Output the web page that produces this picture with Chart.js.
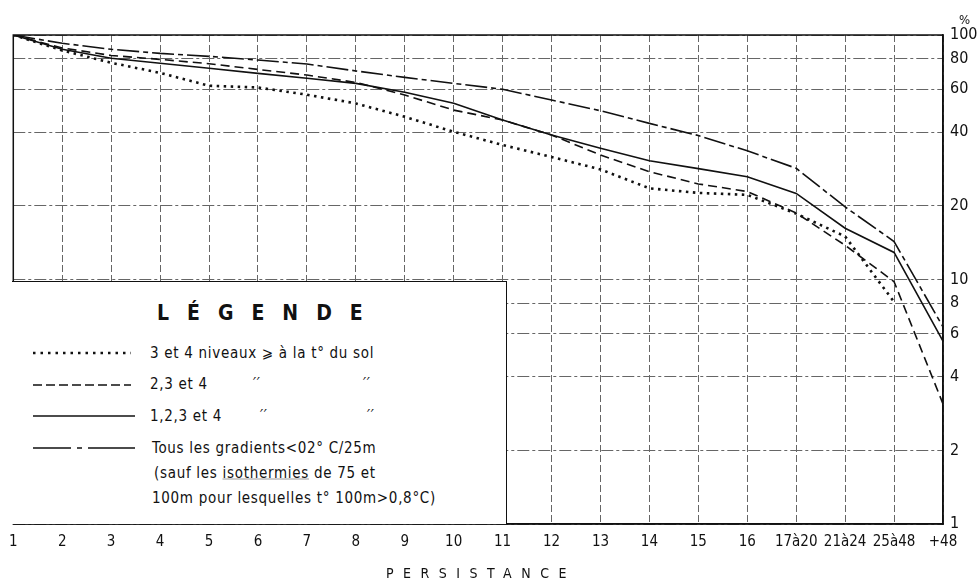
<!DOCTYPE html>
<html>
<head>
<meta charset="utf-8">
<script src="https://cdn.jsdelivr.net/npm/chart.js@4.4.1/dist/chart.umd.min.js"></script>
<style>
body { margin: 0; background: #fff; }
#wrap { position: relative; width: 979px; height: 583px; font-family: 'DejaVu Sans Condensed', 'DejaVu Sans', sans-serif; color: #111; }
#wrap canvas { position: absolute; left: 0; top: 0; }
.txt { position: absolute; white-space: nowrap; line-height: 1; transform: translateY(-50%); }
#legend { position: absolute; left: 12px; top: 281px; width: 495px; height: 243px; background: #fff;
  border-top: 1.5px solid #111; border-right: 1.5px solid #111; box-sizing: border-box; }
#legend .row { font-size: 15px; letter-spacing: 0.7px; }
#legend svg { position: absolute; left: 0; top: 0; }
</style>
</head>
<body>
<div id="wrap">
  <canvas id="chart" width="979" height="583"></canvas>
  <div class="txt" style="left:959px;top:19px;font-size:13px;">%</div>
  <div class="txt" style="left:386px;top:573px;font-size:14px;letter-spacing:9.5px;">PERSISTANCE</div>
  <div id="legend">
    <svg width="495" height="243">
      <line x1="21" y1="71" x2="119" y2="71" stroke="#111" stroke-width="2.5" stroke-dasharray="2.5 5"></line>
      <line x1="21" y1="103" x2="119" y2="103" stroke="#111" stroke-width="1.6" stroke-dasharray="9 4"></line>
      <line x1="21" y1="134" x2="123" y2="134" stroke="#111" stroke-width="1.6"></line>
      <line x1="21" y1="166" x2="123" y2="166" stroke="#111" stroke-width="1.6" stroke-dasharray="38 6 5 6 60"></line>
    </svg>
    <div class="txt" style="left:145px;top:31px;font-size:21px;font-weight:bold;letter-spacing:18px;">LÉGENDE</div>
    <div class="txt row" style="left:138px;top:71px;">3 et 4 niveaux ⩾ à la t° du sol</div>
    <div class="txt row" style="left:138px;top:102px;">2,3 et 4</div>
    <div class="txt row" style="left:241px;top:102px;font-style:italic;">′′</div>
    <div class="txt row" style="left:351px;top:102px;font-style:italic;">′′</div>
    <div class="txt row" style="left:138px;top:134px;">1,2,3 et 4</div>
    <div class="txt row" style="left:248px;top:134px;font-style:italic;">′′</div>
    <div class="txt row" style="left:355px;top:134px;font-style:italic;">′′</div>
    <div class="txt row" style="left:140px;top:166px;">Tous les gradients&lt;02° C/25m</div>
    <div class="txt row" style="left:142px;top:191px;">(sauf les <span style="text-decoration:underline;text-decoration-color:#999;">isothermies</span> de 75 et</div>
    <div class="txt row" style="left:140px;top:216px;">100m pour lesquelles t° 100m&gt;0,8°C)</div>
  </div>
</div>
<script>
const persistance = ['1', '2', '3', '4', '5', '6', '7', '8', '9', '10', '11', '12', '13', '14', '15', '16', '17à20', '21à24', '25à48', '+48'];
const yTicks = [1, 2, 4, 6, 8, 10, 20, 40, 60, 80, 100];

// % en echelle log
const niveaux34 = [100, 86.5, 77, 70, 62, 61, 57, 52.5, 46.3, 40.2, 35.5, 31.7, 28.2, 23.6, 22.6, 22.2, 18.6, 15.0, 8.1, null];
const niveaux234 = [100, 88.5, 82.5, 79.5, 76.3, 72.3, 68.6, 64, 56.8, 49.3, 44.9, 39, 32.3, 27.6, 24.6, 22.9, 18.7, 13.8, 9.8, 3.1];
const niveaux1234 = [100, 87.5, 80.3, 76.6, 73.1, 69.7, 66.5, 63.4, 58.3, 52.6, 44.9, 39, 34.4, 30.6, 28.4, 26.3, 22.5, 16.2, 12.9, 5.6];
const tousGradients = [100, 92.5, 87.4, 84.1, 81.8, 79, 76.1, 71.3, 67.1, 63.4, 60, 54.2, 49, 43.5, 38.8, 33.6, 28.5, 19.8, 14.3, 6.4];

const frame = {
    id: 'frame',
    afterDraw(chart) {
        const a = chart.chartArea;
        const ctx = chart.ctx;
        ctx.save();
        ctx.strokeStyle = '#111';
        ctx.lineWidth = 1.5;
        ctx.strokeRect(a.left, a.top, a.right - a.left, a.bottom - a.top);
        ctx.restore();
    }
};

function line(data, dash, width) {
    return {
        data: data,
        borderColor: '#111',
        borderWidth: width,
        borderDash: dash,
        pointRadius: 0,
        tension: 0,
        fill: false,
        spanGaps: false
    };
}

new Chart(document.getElementById('chart'), {
    type: 'line',
    data: {
        labels: persistance,
        datasets: [
            line(niveaux34, [2.5, 4.5], 2.6),
            line(niveaux234, [9, 5], 1.6),
            line(niveaux1234, [], 1.6),
            line(tousGradients, [22, 4, 5, 4], 1.6)
        ]
    },
    options: {
        responsive: false,
        animation: false,
        layout: { padding: { left: 12, top: 35, right: 0, bottom: 0 } },
        plugins: { legend: { display: false }, tooltip: { enabled: false } },
        scales: {
            x: {
                type: 'category',
                offset: false,
                grid: { color: '#666', lineWidth: 1, drawTicks: false, offset: false },
                border: { display: true, color: '#111', width: 1.5, dash: [7, 3] },
                ticks: {
                    color: '#111', autoSkip: false, maxRotation: 0, padding: 9,
                    font: { family: "'DejaVu Sans Condensed', 'DejaVu Sans', sans-serif", size: 15 }
                },
                afterFit(scale) { scale.height = 59; }
            },
            y: {
                type: 'logarithmic',
                position: 'right',
                min: 1,
                max: 100,
                grid: { color: '#666', lineWidth: 1, drawTicks: false },
                border: { display: true, color: '#111', width: 1.5, dash: [12, 3, 3, 3] },
                afterBuildTicks(scale) { scale.ticks = yTicks.map(v => ({ value: v })); },
                ticks: {
                    color: '#111', padding: 7,
                    font: { family: "'DejaVu Sans Condensed', 'DejaVu Sans', sans-serif", size: 16 },
                    callback: v => String(v)
                },
                afterFit(scale) { scale.width = 36; }
            }
        }
    },
    plugins: [frame]
});
</script>
</body>
</html>
